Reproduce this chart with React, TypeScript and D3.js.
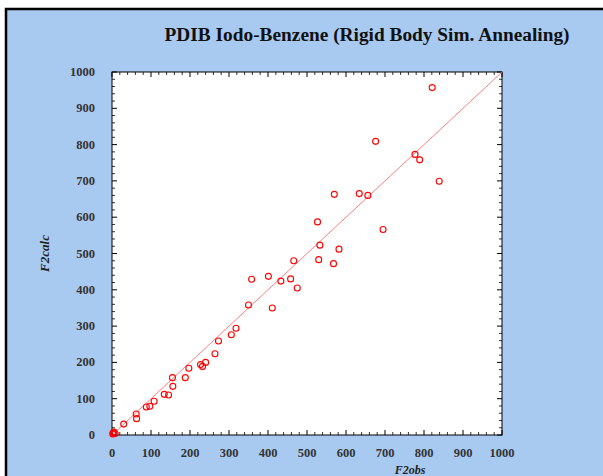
import React from "react";
import * as d3 from "d3";

// Observed vs calculated F² for each reflection
const f2obs = [2, 5, 8, 3, 30, 62, 63, 88, 97, 108, 134, 145, 155, 156, 188, 197, 227, 232, 240, 264, 273, 306, 318, 350, 358, 401, 411, 433, 458, 466, 475, 527, 530, 533, 568, 570, 582, 634, 656, 676, 695, 777, 789, 821, 839];
const f2calc = [3, 8, 4, 6, 30, 58, 45, 77, 79, 93, 112, 110, 158, 134, 158, 184, 194, 189, 200, 224, 259, 276, 294, 358, 429, 437, 350, 424, 430, 480, 405, 587, 483, 523, 472, 663, 512, 665, 660, 809, 566, 773, 758, 957, 699];
const tickValues = [0, 100, 200, 300, 400, 500, 600, 700, 800, 900, 1000];
const titleText = "PDIB Iodo-Benzene (Rigid Body Sim. Annealing)";

const W = 603;
const H = 476;
const plot = { left: 112, right: 502, top: 72, bottom: 435 };

export default function App() {
  const x = d3.scaleLinear().domain([0, 1000]).range([plot.left, plot.right]);
  const y = d3.scaleLinear().domain([0, 1000]).range([plot.bottom, plot.top]);
  const minor = d3.range(0, 1001, 20).filter((v) => v % 100 !== 0);
  const points = f2obs.map((o, i) => ({ o, c: f2calc[i] }));
  const diag = d3.line<number>().x((v) => x(v)).y((v) => y(v));
  const labelFont = "'Liberation Serif', 'DejaVu Serif', serif";

  return (
    <svg width={W} height={H} style={{ position: "absolute", left: 0, top: 0 }}>
      <rect x={0} y={0} width={W} height={H} fill="#ffffff" />
      <rect x={6} y={9} width={W + 20} height={H + 20} fill="#a8caf0" stroke="#000" strokeWidth={2.5} />
      <text x={367} y={41} textAnchor="middle" fontFamily={labelFont} fontWeight="bold" fontSize={18} textLength={405} lengthAdjust="spacingAndGlyphs" fill="#111">
        {titleText}
      </text>
      <rect x={plot.left} y={plot.top} width={plot.right - plot.left} height={plot.bottom - plot.top} fill="#ffffff" stroke="#000" strokeWidth={1} />
      {/* major ticks on all four sides */}
      {tickValues.map((v) => (
        <g key={"M" + v} stroke="#000" strokeWidth={1}>
          <line x1={x(v)} x2={x(v)} y1={plot.bottom} y2={plot.bottom - 5} />
          <line x1={x(v)} x2={x(v)} y1={plot.top} y2={plot.top + 5} />
          <line x1={plot.left} x2={plot.left + 5} y1={y(v)} y2={y(v)} />
          <line x1={plot.right} x2={plot.right - 5} y1={y(v)} y2={y(v)} />
        </g>
      ))}
      {minor.map((v) => (
        <g key={"m" + v} stroke="#000" strokeWidth={0.8}>
          <line x1={x(v)} x2={x(v)} y1={plot.bottom} y2={plot.bottom - 3} />
          <line x1={x(v)} x2={x(v)} y1={plot.top} y2={plot.top + 3} />
          <line x1={plot.left} x2={plot.left + 3} y1={y(v)} y2={y(v)} />
          <line x1={plot.right} x2={plot.right - 3} y1={y(v)} y2={y(v)} />
        </g>
      ))}
      {tickValues.map((v) => (
        <text key={"yl" + v} x={95} y={y(v) + 4} textAnchor="end" fontFamily={labelFont} fontWeight="bold" fontSize={12.5} fill="#333">
          {v}
        </text>
      ))}
      {tickValues.map((v) => (
        <text key={"xl" + v} x={x(v)} y={457} textAnchor="middle" fontFamily={labelFont} fontWeight="bold" fontSize={12.5} fill="#333">
          {v}
        </text>
      ))}
      <text transform={`translate(49,${(plot.top + plot.bottom) / 2}) rotate(-90)`} textAnchor="middle" fontFamily={labelFont} fontWeight="bold" fontStyle="italic" fontSize={13} fill="#222">
        F2calc
      </text>
      <text x={410} y={474} textAnchor="middle" fontFamily={labelFont} fontWeight="bold" fontStyle="italic" fontSize={12} fill="#222">
        F2obs
      </text>
      {/* ideal agreement line */}
      <path d={diag([0, 1000]) || ""} fill="none" stroke="#ff7070" strokeWidth={0.9} />
      {points.map((p, i) => (
        <circle key={i} cx={x(p.o)} cy={y(p.c)} r={3} fill="none" stroke="#ff0000" strokeWidth={1.1} />
      ))}
    </svg>
  );
}
